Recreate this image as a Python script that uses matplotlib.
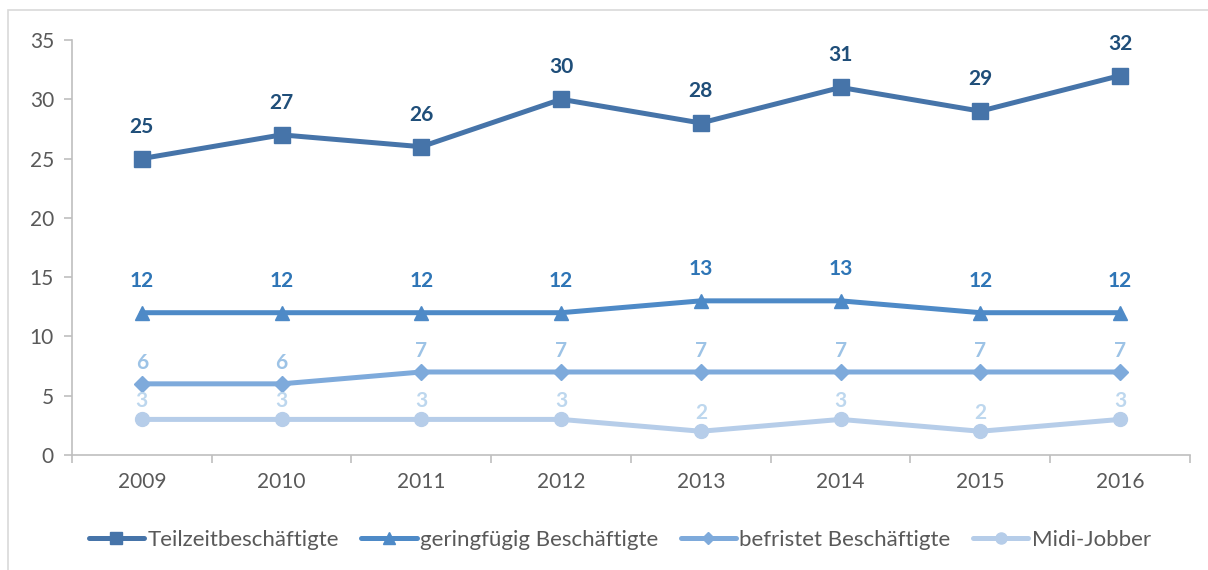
import matplotlib.pyplot as plt
from matplotlib.patches import Rectangle

years = ["2009", "2010", "2011", "2012", "2013", "2014", "2015", "2016"]
teilzeit = [25, 27, 26, 30, 28, 31, 29, 32]
geringfuegig = [12, 12, 12, 12, 13, 13, 12, 12]
befristet = [6, 6, 7, 7, 7, 7, 7, 7]
midi = [3, 3, 3, 3, 2, 3, 2, 3]

series = [
    ("Teilzeitbeschäftigte", teilzeit, "#4674a9", "#1f4e79", "s", 11, 23),
    ("geringfügig Beschäftigte", geringfuegig, "#4e8ac7", "#2e75b6", "^", 10, 23),
    ("befristet Beschäftigte", befristet, "#7eaadb", "#9dc3e6", "D", 8, 15),
    ("Midi-Jobber", midi, "#b6cde9", "#bdd7ee", "o", 10, 13),
]

plt.rcParams["font.family"] = ["Lato", "DejaVu Sans"]

fig = plt.figure(figsize=(12.08, 5.70), dpi=100)
ax = fig.add_axes([0.0596, 0.2018, 0.9255, 0.728])

x = list(range(len(years)))
for name, vals, color, lcolor, marker, ms, off in series:
    ax.plot(x, vals, color=color, lw=3.6, marker=marker, ms=ms,
            solid_capstyle="round", label=name, clip_on=False)
    for xi, v in zip(x, vals):
        ax.annotate(str(v), (xi, v), xytext=(0, off), textcoords="offset points",
                    ha="center", va="center", fontsize=15, fontweight="bold",
                    color=lcolor)

ax.set_xlim(-0.5, len(years) - 0.5)
ax.set_ylim(0, 35)
ax.set_yticks(range(0, 36, 5))
ax.set_xticks(x)
ax.set_xticklabels(years)
ax.set_xticks([i - 0.5 for i in range(len(years) + 1)], minor=True)
ax.tick_params(axis="x", which="major", length=0, pad=12, labelsize=15, colors="#595959")
ax.tick_params(axis="x", which="minor", length=6, color="#bfbfbf", width=1.2)
ax.tick_params(axis="y", length=6, color="#bfbfbf", width=1.2, pad=7,
               labelsize=15, labelcolor="#595959")

for s in ["top", "right"]:
    ax.spines[s].set_visible(False)
for s in ["left", "bottom"]:
    ax.spines[s].set_color("#bfbfbf")
    ax.spines[s].set_linewidth(1.2)

leg = fig.legend(loc="center", bbox_to_anchor=(0.513, 0.053), ncol=4, frameon=False,
                 fontsize=16, handlelength=2.5, handletextpad=0.15, columnspacing=1.0,
                 markerscale=0.8)
for t in leg.get_texts():
    t.set_color("#595959")

fig.patches.append(Rectangle((8 / 1208, -0.1), 1.2, (560 / 570) + 0.1,
                             transform=fig.transFigure, fill=False,
                             edgecolor="#d9d9d9", lw=1.2))

fig.savefig("out.png", dpi=100)
